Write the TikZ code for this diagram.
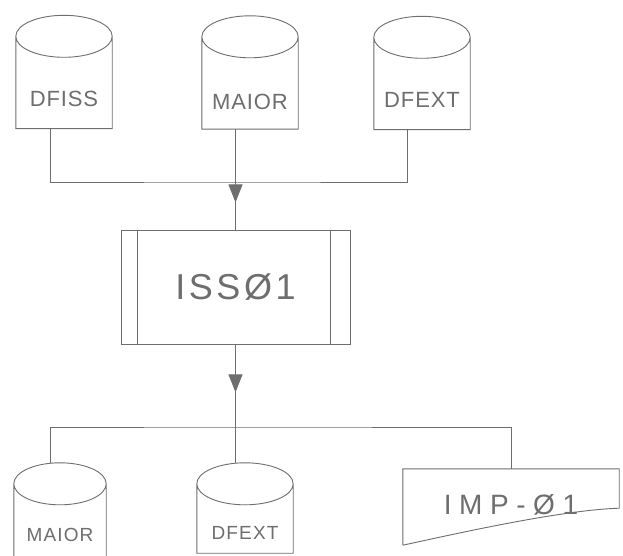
\documentclass[tikz,border=0pt]{standalone}
\usepackage{fontspec}
\usetikzlibrary{calc,arrows.meta,decorations.markings}
\newfontfamily\handfont{Liberation Sans}
\definecolor{pencil}{HTML}{6E6E6E}
\definecolor{lead}{HTML}{555555}
\tikzset{
  pen/.style={draw=pencil,line width=0.9pt},
  store/.style={minimum width=96pt,minimum height=113pt,inner sep=0pt},
  lbl/.style={text=pencil,font=\handfont\fontsize{22}{24}\selectfont\addfontfeature{LetterSpace=4}},
  lblsmall/.style={text=pencil,font=\handfont\fontsize{19}{21}\selectfont\addfontfeature{LetterSpace=6}},
  flowat/.style={postaction={decorate},decoration={markings,mark=at position #1 with {\arrow[pencil,fill=lead]{Triangle[length=18pt,width=14pt]}}}}
}

\begin{document}
\begin{tikzpicture}[x=1pt,y=-1pt]
  \fill[white] (0,0) rectangle (623,556);
  \clip (0,0) rectangle (623,556);
  % input files
  \node[store,label={[lbl,yshift=-27pt]center:DFISS}] (dfiss) at (64,72) {};
  \node[store,label={[lbl,yshift=-29pt]center:MAIOR}] (maior) at (250,72.5) {};
  \node[store,label={[lbl,yshift=-27pt]center:DFEXT}] (dfext) at (422,73) {};
  % program
  \node[minimum width=229pt,minimum height=114pt,inner sep=0pt,pen,text=pencil,
        font=\handfont\fontsize{36}{40}\selectfont\addfontfeature{LetterSpace=10}] (iss) at (235.5,287) {ISSØ1};
  \draw[pen] ([xshift=17pt]iss.north west) -- ([xshift=17pt]iss.south west)
             ([xshift=-20pt]iss.north east) -- ([xshift=-20pt]iss.south east);
  % outputs
  \node[store,minimum width=92pt,minimum height=96pt,label={[lblsmall,yshift=-24pt]center:MAIOR}] (maiorout) at (60,511) {};
  \node[store,minimum height=90pt,label={[lblsmall,yshift=-25pt]center:DFEXT}] (dfextout) at (245,508) {};
  \node[minimum width=216pt,minimum height=76pt,inner sep=0pt,text=pencil,
        font=\handfont\fontsize{28}{30}\selectfont\addfontfeature{LetterSpace=27}] (doc) at (511,507) {\raisebox{6pt}{IMP-Ø1}};
  % cylinders
  \foreach \s in {dfiss,maior,dfext,maiorout,dfextout}
    \draw[pen] let \p1=(\s.north west),\p2=(\s.north east) in
      ([yshift=-21pt]\s.north) ellipse [x radius={(\x2-\x1)/2},y radius=21pt]
      ([yshift=-21pt]\s.north west) -- (\s.south west) -- (\s.south east) -- ([yshift=-21pt]\s.north east);
  % printout
  \draw[pen] (doc.south west) -- (doc.north west) -- (doc.north east) -- ([yshift=37pt]doc.south east)
    .. controls (560,510) and (450,535) .. (doc.south west);
  % connectors
  \coordinate (jointop) at (235.5,182);
  \coordinate (joinbot) at (235.5,427);
  \draw[pen] ([xshift=-14pt]dfiss.south) |- (jointop) -| ([xshift=-15pt]dfext.south);
  \draw[pen,flowat=0.73] (iss.north |- maior.south) -- (iss.north);
  \draw[pen,flowat=0.58] (iss.south) -- (joinbot);
  \draw[pen] ([xshift=-10pt]maiorout.north) |- (joinbot) -| (doc.north);
  \draw[pen] (joinbot) -- (joinbot |- dfextout.north);
\end{tikzpicture}
\end{document}
